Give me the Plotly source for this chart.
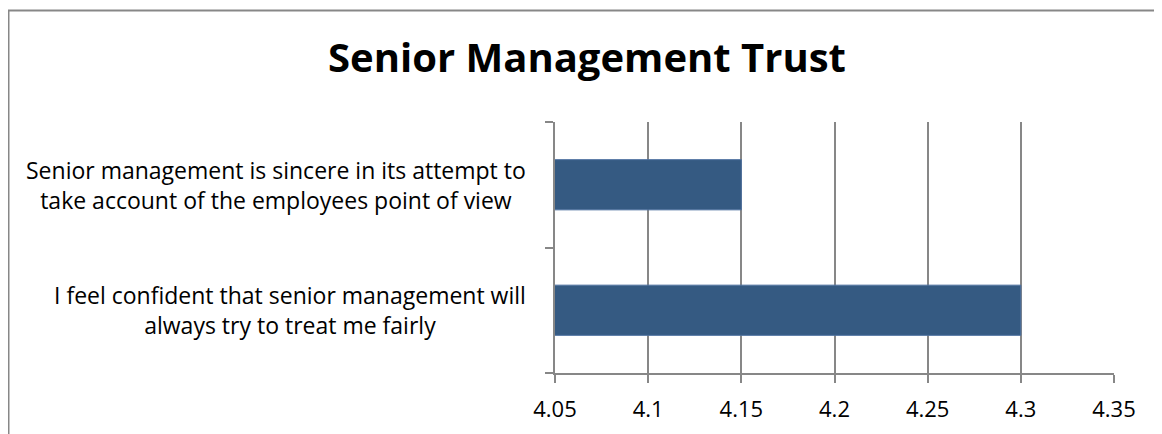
import plotly.graph_objects as go

title = "Senior Management Trust"
categories = [
    "I feel confident that senior management will<br>always try to treat me fairly",
    "Senior management is sincere in its attempt to<br>take account of the employees point of view",
]
values = [4.3, 4.15]
x_ticks = [4.05, 4.1, 4.15, 4.2, 4.25, 4.3, 4.35]
x_tick_text = ["4.05", "4.1", "4.15", "4.2", "4.25", "4.3", "4.35"]

FONT = "Open Sans"
GRID = "#878787"

W, H = 1154, 426
L, R, T, B = 547, 1106, 114, 365

fig = go.Figure()
fig.add_trace(go.Bar(
    x=values, y=categories, orientation="h", width=0.4,
    marker=dict(color="#355A82", line=dict(color="#4F72A0", width=1)),
))

for cat in categories:
    fig.add_annotation(
        x=0, xref="paper", xanchor="right", xshift=-27,
        y=cat, yref="y", yanchor="middle",
        text=cat, showarrow=False, align="center",
        font=dict(family=FONT, size=23, color="black"),
    )

pw, ph = R - L, B - T
fig.add_shape(type="rect", xref="paper", yref="paper",
              x0=(0.5 - L) / pw, x1=1.3, y0=-0.6, y1=(B - 2.5) / ph,
              line=dict(color=GRID, width=2), fillcolor="rgba(0,0,0,0)", layer="below")

fig.update_layout(
    width=W, height=H,
    margin=dict(l=L, r=W - R, t=T, b=H - B),
    paper_bgcolor="white", plot_bgcolor="white",
    showlegend=False,
    title=dict(text="<b>" + title + "</b>", x=579 / W, xanchor="center",
               xref="container", y=1 - 50 / H, yanchor="middle", yref="container",
               font=dict(family=FONT, size=40, color="black")),
    xaxis=dict(range=[4.05, 4.35], tickvals=x_ticks, ticktext=x_tick_text,
               showgrid=True, gridcolor=GRID, gridwidth=1.5,
               showline=True, linecolor=GRID, linewidth=1.5,
               ticks="outside", ticklen=8, tickcolor=GRID, tickwidth=1.5,
               ticklabelstandoff=8,
               tickfont=dict(family=FONT, size=22, color="black"), zeroline=False),
    yaxis=dict(showticklabels=False, showline=True, linecolor=GRID, linewidth=1.5,
               ticks="outside", tickson="boundaries", ticklen=8, tickcolor=GRID, tickwidth=1.5,
               showgrid=False),
)

fig.write_html("out.html")
